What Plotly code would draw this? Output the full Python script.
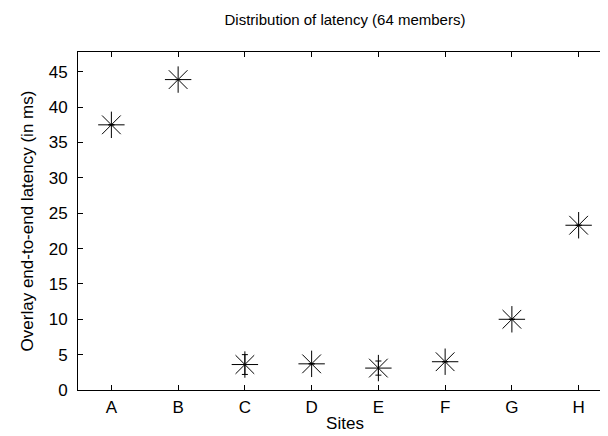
import plotly.graph_objects as go

sites = ["A", "B", "C", "D", "E", "F", "G", "H"]
latency_ms = [37.5, 43.9, 3.6, 3.7, 3.1, 4.0, 10.0, 23.3]
latency_err = [0.0, 0.0, 1.4, 0.0, 1.0, 0.0, 0.0, 0.0]
y_ticks = [0, 5, 10, 15, 20, 25, 30, 35, 40, 45]

positions = list(range(1, len(sites) + 1))

fig = go.Figure()
fig.add_trace(go.Scatter(
    x=positions,
    y=latency_ms,
    mode="markers",
    marker=dict(symbol="asterisk-open", size=22, color="black",
                line=dict(color="black", width=1)),
    error_y=dict(type="data", array=latency_err, visible=True,
                 color="black", thickness=1, width=3),
    showlegend=False,
))

font = dict(family="Liberation Sans, Arial, sans-serif", size=17, color="black")

fig.update_layout(
    width=608, height=436,
    margin=dict(l=70, r=4, t=44, b=54, autoexpand=False),
    paper_bgcolor="white", plot_bgcolor="white",
    font=font,
    title=dict(text="Distribution of latency (64 members)", x=(70 + 604) / 2 / 608,
               xanchor="center", y=1 - 12 / 436, yanchor="middle",
               font=dict(size=15)),
    xaxis=dict(
        range=[0.5, 8.5], tickmode="array", tickvals=positions, ticktext=sites,
        ticks="inside", ticklen=5, tickcolor="black", mirror="ticks",
        showline=True, linecolor="black", linewidth=1, showgrid=False,
        zeroline=False, tickfont=dict(size=17), ticklabelstandoff=2,
        automargin=False,
        title=dict(text="Sites", standoff=0, font=dict(size=17)),
    ),
    yaxis=dict(
        range=[0, 47.8], tickmode="array", tickvals=y_ticks,
        ticks="inside", ticklen=5, tickcolor="black", mirror="ticks",
        showline=True, linecolor="black", linewidth=1, showgrid=False,
        zeroline=False, tickfont=dict(size=17), ticklabelstandoff=6,
        automargin=False,
        title=dict(text="Overlay end-to-end latency (in ms)", standoff=10,
                   font=dict(size=17)),
    ),
)

fig.write_html("out.html")
